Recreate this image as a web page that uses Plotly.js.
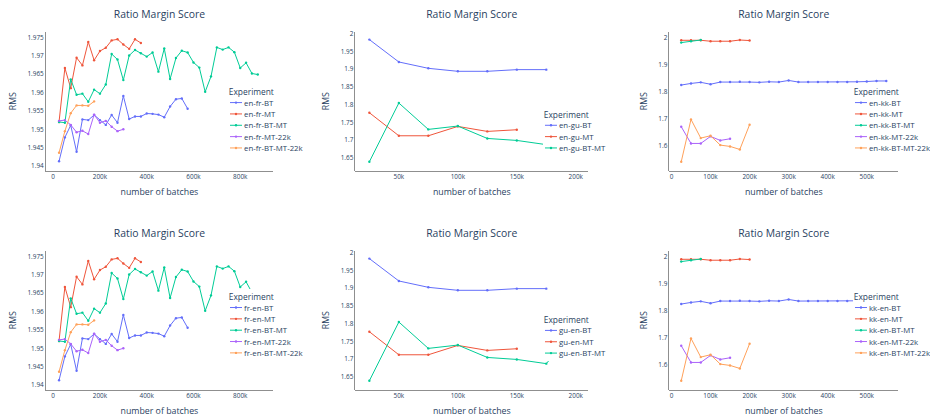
<!DOCTYPE html>
<html>
<head>
<meta charset="utf-8">
<script src="https://cdn.plot.ly/plotly-3.0.1.min.js"></script>
<style>
  html, body { margin:0; padding:0; background:#fff; width:930px; height:420px; overflow:hidden; }
  .fig { position:absolute; width:775px; height:525px; transform:scale(0.4); transform-origin:0 0; }
</style>
</head>
<body>
<div id="f1" class="fig" style="left:0px;top:0px"></div>
<div id="f2" class="fig" style="left:310px;top:0px"></div>
<div id="f3" class="fig" style="left:620px;top:0px"></div>
<div id="f4" class="fig" style="left:0px;top:219px"></div>
<div id="f5" class="fig" style="left:310px;top:219px"></div>
<div id="f6" class="fig" style="left:620px;top:219px"></div>
<script>
// ---- data: number of batches ----
const batches = [25000, 50000, 75000, 100000, 125000, 150000, 175000, 200000, 225000, 250000,
  275000, 300000, 325000, 350000, 375000, 400000, 425000, 450000, 475000, 500000,
  525000, 550000, 575000, 600000, 625000, 650000, 675000, 700000, 725000, 750000,
  775000, 800000, 825000, 850000, 875000];

// ---- fr (en-fr / fr-en) RMS values ----
const frBT = [1.9413, 1.9478, 1.9511, 1.9439, 1.9527, 1.9525, 1.9539, 1.9525, 1.9512, 1.9539,
  1.9518, 1.9591, 1.9528, 1.9535, 1.9535, 1.9543, 1.9542, 1.9540, 1.9533, 1.9562, 1.9582, 1.9584, 1.9556];
const frMT = [1.9520, 1.9667, 1.9612, 1.9695, 1.9674, 1.9738, 1.9688, 1.9713, 1.9722, 1.9742,
  1.9745, 1.9731, 1.9719, 1.9745, 1.9735];
const frBTMT = [1.9520, 1.9518, 1.9636, 1.9594, 1.9597, 1.9575, 1.9608, 1.9597, 1.9622, 1.9705,
  1.9690, 1.9634, 1.9701, 1.9716, 1.9707, 1.9698, 1.9709, 1.9657, 1.9720, 1.9637,
  1.9694, 1.9714, 1.9709, 1.9682, 1.9668, 1.9602, 1.9644, 1.9723, 1.9717, 1.9723,
  1.9710, 1.9667, 1.9681, 1.9652, 1.9649];
const frMT22k = [1.9523, 1.9525, 1.9512, 1.9492, 1.9496, 1.9487, 1.9540, 1.9518, 1.9523, 1.9507, 1.9495, 1.9500];
const frBTMT22k = [1.9436, 1.9495, 1.9544, 1.9565, 1.9565, 1.9564, 1.9576];

// ---- gu (en-gu / gu-en) RMS values ----
const guBT = [1.9831, 1.9200, 1.9021, 1.8937, 1.8937, 1.8984, 1.8984];
const guMT = [1.7770, 1.7120, 1.7120, 1.7384, 1.7243, 1.7290];
const guBTMT = [1.6387, 1.8043, 1.7300, 1.7394, 1.7045, 1.6989, 1.6870, 1.7840];

// ---- kk (en-kk / kk-en) RMS values ----
const kkBT = [1.825, 1.831, 1.835, 1.828, 1.836, 1.836, 1.837, 1.836, 1.835, 1.837, 1.836,
  1.842, 1.836, 1.836, 1.836, 1.836, 1.836, 1.836, 1.837, 1.838, 1.840, 1.840];
const kkMT = [1.990, 1.990, 1.990, 1.9865, 1.9865, 1.9865, 1.991, 1.989];
const kkBTMT = [1.9815, 1.9865, 1.991];
const kkMT22k = [1.6714, 1.6098, 1.6098, 1.6357, 1.6209, 1.627];
const kkBTMT22k = [1.5422, 1.6985, 1.6295, 1.6382, 1.6037, 1.5988, 1.5877, 1.6788];

const colors = ['#636efa', '#EF553B', '#00cc96', '#ab63fa', '#FFA15A'];

function trace(name, ys, i) {
  return {
    type: 'scatter', mode: 'lines+markers', name: name,
    x: batches.slice(0, ys.length), y: ys,
    line: { color: colors[i], width: 2.5 },
    marker: { color: colors[i], size: 6 }
  };
}

function draw(id, traces, opt) {
  const layout = {
    width: 775, height: 525,
    margin: { l: opt.l, r: opt.r, t: 79, b: 98, autoexpand: false },
    paper_bgcolor: '#fff', plot_bgcolor: '#fff',
    font: { family: '"Open Sans", verdana, arial, sans-serif', color: '#2a3f5f', size: 16 },
    title: { text: 'Ratio Margin Score', font: { size: 26, color: '#2a3f5f' },
      x: 0.5, xref: 'paper', xanchor: 'center', y: 1 - 35 / 525, yref: 'container', yanchor: 'middle' },
    xaxis: { title: { text: 'number of batches', font: { size: 22 }, standoff: 20 }, range: opt.xr, tick0: 0, dtick: opt.dx,
      showgrid: false, zeroline: false, showline: true, linecolor: '#444', linewidth: 1.5, ticks: '',
      tickfont: { size: 16 }, automargin: false },
    yaxis: { title: { text: 'RMS', font: { size: 22 }, standoff: opt.ys }, range: opt.yr, tick0: 0, dtick: opt.dy,
      showgrid: false, zeroline: false, showline: true, linecolor: '#444', linewidth: 1.5, ticks: '',
      tickfont: { size: 16 }, automargin: false },
    legend: { title: { text: 'Experiment', font: { size: 21 } }, font: { size: 19.5 },
      x: opt.lx, y: opt.ly, xref: 'container', yref: 'container', xanchor: 'left', yanchor: 'top',
      bgcolor: '#fff' },
    showlegend: true
  };
  Plotly.newPlot(id, traces, layout, { displayModeBar: false, staticPlot: true });
}

const frOpt = { l: 114, r: 92, xr: [-32500, 941000], dx: 200000, yr: [1.9387, 1.9766], dy: 0.005, ys: 22 };
const guOpt = { l: 112.5, r: 79, xr: [13000, 210700], dx: 50000, yr: [1.6133, 2.0056], dy: 0.05, ys: 22 };
const kkOpt = { l: 122.5, r: 79, xr: [-5800, 581000], dx: 100000, yr: [1.509, 2.022], dy: 0.1, ys: 22 };

draw('f1', [trace('en-fr-BT', frBT, 0), trace('en-fr-MT', frMT, 1), trace('en-fr-BT-MT', frBTMT, 2),
  trace('en-fr-MT-22k', frMT22k, 3), trace('en-fr-BT-MT-22k', frBTMT22k, 4)],
  Object.assign({ lx: 0.7355, ly: 0.600 }, frOpt));
draw('f2', [trace('en-gu-BT', guBT, 0), trace('en-gu-MT', guMT, 1), trace('en-gu-BT-MT', guBTMT, 2)],
  Object.assign({ lx: 0.7516, ly: 0.492 }, guOpt));
draw('f3', [trace('en-kk-BT', kkBT, 0), trace('en-kk-MT', kkMT, 1), trace('en-kk-BT-MT', kkBTMT, 2),
  trace('en-kk-MT-22k', kkMT22k, 3), trace('en-kk-BT-MT-22k', kkBTMT22k, 4)],
  Object.assign({ lx: 0.7516, ly: 0.600 }, kkOpt));
draw('f4', [trace('fr-en-BT', frBT, 0), trace('fr-en-MT', frMT, 1), trace('fr-en-BT-MT', frBTMT, 2),
  trace('fr-en-MT-22k', frMT22k, 3), trace('fr-en-BT-MT-22k', frBTMT22k, 4)],
  Object.assign({ lx: 0.7355, ly: 0.667 }, frOpt));
draw('f5', [trace('gu-en-BT', guBT, 0), trace('gu-en-MT', guMT, 1), trace('gu-en-BT-MT', guBTMT, 2)],
  Object.assign({ lx: 0.7516, ly: 0.558 }, guOpt));
draw('f6', [trace('kk-en-BT', kkBT, 0), trace('kk-en-MT', kkMT, 1), trace('kk-en-BT-MT', kkBTMT, 2),
  trace('kk-en-MT-22k', kkMT22k, 3), trace('kk-en-BT-MT-22k', kkBTMT22k, 4)],
  Object.assign({ lx: 0.7516, ly: 0.667 }, kkOpt));
</script>
</body>
</html>
